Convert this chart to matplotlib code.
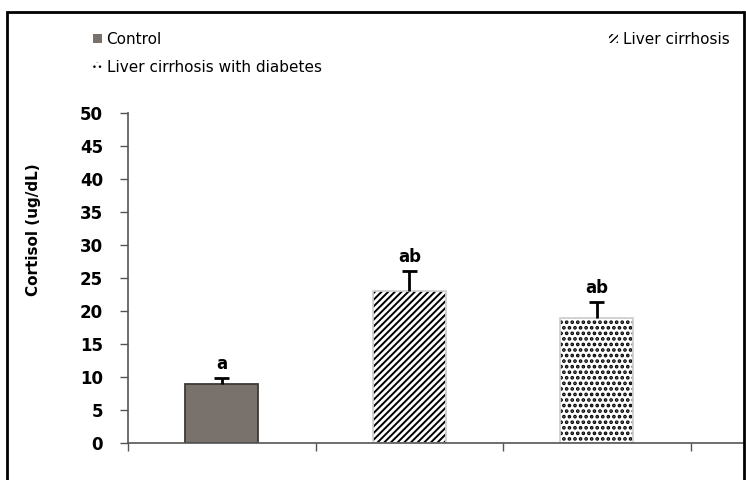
import matplotlib.pyplot as plt
from matplotlib.patches import Patch, Rectangle

# Group means, upper SE and significance letters
groups = ["Control", "Liver cirrhosis", "Liver cirrhosis with diabetes"]
cortisol = [9.0, 23.0, 19.0]
errors = [0.8, 3.0, 2.3]
letters = ["a", "ab", "ab"]
yticks = [0, 5, 10, 15, 20, 25, 30, 35, 40, 45, 50]

fig = plt.figure(figsize=(7.46, 4.8), dpi=100)
ax = fig.add_axes([0.1716, 0.0771, 0.8244, 0.6875])

x = list(range(len(groups)))
faces = ["#78716c", "white", "white"]
hatch_cols = ["#3d3935", "black", "black"]
outlines = ["#3d3935", "#d0d0d0", "#d0d0d0"]
hatches = [None, "/////", "..."]
hatch_lw = [1.0, 1.4, 1.8]

# fill + hatch pass per bar (own hatch width each), then an outline pass
handles = []
for i in x:
    with plt.rc_context({"hatch.linewidth": hatch_lw[i]}):
        ax.bar(x[i], cortisol[i], width=0.39, color=faces[i], edgecolor=hatch_cols[i],
               linewidth=0, hatch=hatches[i])
        handles.append(Patch(facecolor=faces[i], edgecolor=hatch_cols[i], linewidth=0,
                             hatch=hatches[i]))
ax.bar(x, cortisol, width=0.39, color="none", edgecolor=outlines, linewidth=1.3)

# upper-only error bars drawn as a T on each bar
tops = [v + e for v, e in zip(cortisol, errors)]
ax.vlines(x, cortisol, tops, color="black", linewidth=2)
ax.hlines(tops, [xi - 0.04 for xi in x], [xi + 0.04 for xi in x],
          color="black", linewidth=2)

for xi, t, lab in zip(x, tops, letters):
    ax.annotate(lab, (xi, t), xytext=(0, 4), textcoords="offset points",
                ha="center", va="bottom", fontsize=12, fontweight="bold")

ax.set_xlim(-0.5, 2.78)
ax.set_ylim(0, 50)
ax.set_yticks(yticks)
ax.set_xticks([-0.5, 0.5, 1.5, 2.5])
ax.set_xticklabels([])
ax.tick_params(axis="y", direction="out", length=6, width=1, color="#555555",
               labelsize=12, pad=12)
ax.tick_params(axis="x", direction="out", length=6, width=1, color="#555555")
for lab in ax.get_yticklabels():
    lab.set_fontweight("bold")
for s in ["top", "right"]:
    ax.spines[s].set_visible(False)
for s in ["left", "bottom"]:
    ax.spines[s].set_color("#555555")
    ax.spines[s].set_linewidth(1.2)

ax.set_ylabel("Cortisol (ug/dL)", fontsize=11, fontweight="bold")
ax.yaxis.set_label_coords(-0.142, 0.645)

# legend: two columns, first column holds control and diabetes groups
order = [0, 2, 1]
fig.legend([handles[i] for i in order], [groups[i] for i in order],
           loc="upper left", bbox_to_anchor=(0.106, 0.962), ncol=2,
           frameon=False, fontsize=11, handlelength=0.6, handleheight=0.6,
           handletextpad=0.3, columnspacing=18.8, labelspacing=0.85)

# outer frame around the figure
fig.patches.append(Rectangle((0.009, -0.05), 0.988, 1.025, transform=fig.transFigure,
                             fill=False, edgecolor="black", linewidth=2))

fig.savefig("out.png", dpi=100)
